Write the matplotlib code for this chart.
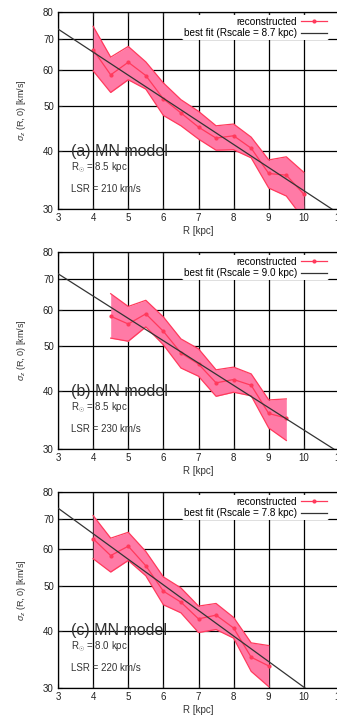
import numpy as np
import matplotlib
matplotlib.use("Agg")
import matplotlib.pyplot as plt
from matplotlib.ticker import FixedLocator, NullLocator

plt.rcParams["font.family"] = ["Liberation Sans", "DejaVu Sans"]
plt.rcParams["mathtext.fontset"] = "custom"
plt.rcParams["mathtext.rm"] = "Liberation Sans"
plt.rcParams["mathtext.it"] = "Liberation Sans:italic"

# radius grid of the reconstruction [kpc]
r_a = [4, 4.5, 5, 5.5, 6, 6.5, 7, 7.5, 8, 8.5, 9, 9.5, 10]
r_b = [4.5, 5, 5.5, 6, 6.5, 7, 7.5, 8, 8.5, 9, 9.5]
r_c = [4, 4.5, 5, 5.5, 6, 6.5, 7, 7.5, 8, 8.5, 9]

# (a) R0 = 8.5 kpc, LSR = 210 km/s
sig_a = [66.3, 58.5, 62.3, 58.3, 51.9, 48.4, 45.1, 42.7, 43.2, 40.6, 35.8, 35.5, 32.3]
up_a = [74.5, 63.9, 67.4, 62.4, 56.2, 51.7, 48.8, 45.4, 45.8, 42.9, 38.3, 38.9, 36.0]
lo_a = [59.7, 53.6, 57.1, 54.5, 47.8, 45.4, 42.5, 40.2, 40.3, 38.7, 33.3, 32.0, 28.5]

# (b) R0 = 8.5 kpc, LSR = 230 km/s
sig_b = [58.1, 55.9, 58.8, 53.9, 48.4, 45.8, 41.7, 42.4, 41.2, 35.8, 35.0]
up_b = [65.0, 61.0, 62.9, 57.9, 51.9, 49.4, 44.5, 45.1, 43.6, 38.3, 38.5]
lo_b = [52.1, 51.3, 55.1, 50.4, 44.9, 43.1, 39.0, 39.8, 39.1, 33.3, 31.3]

# (c) R0 = 8.0 kpc, LSR = 220 km/s
sig_c = [63.3, 58.2, 61.0, 55.3, 48.7, 46.1, 42.4, 43.2, 40.5, 35.0, 33.5]
up_c = [71.1, 63.5, 65.4, 59.4, 52.3, 49.5, 45.2, 45.8, 42.7, 37.6, 37.1]
lo_c = [57.3, 53.6, 56.8, 52.6, 45.5, 43.7, 39.6, 40.2, 38.5, 32.6, 30.2]

# best-fit exponential lines (straight in log space), end points
fit_r = [3, 11]
fit_a = [73.5, 29.3]
fit_b = [71.8, 29.5]
fit_c = [73.8, 26.5]

rscales = ["8.7", "9.0", "7.8"]
tags = ["(a)", "(b)", "(c)"]
r0s = ["8.5", "8.5", "8.0"]
lsrs = ["210", "230", "220"]

xticks = [3, 4, 5, 6, 7, 8, 9, 10, 11]
yticks = [30, 40, 50, 60, 70, 80]

FILL = "#ff7aa6"
EDGE = "#ff3a5c"

fig = plt.figure(figsize=(3.37, 7.17), dpi=100)
tops = [12, 252, 492]
bottoms = [209, 449, 688]

panels = [
    (r_a, sig_a, up_a, lo_a, fit_a),
    (r_b, sig_b, up_b, lo_b, fit_b),
    (r_c, sig_c, up_c, lo_c, fit_c),
]

for i, (r, sig, up, lo, fit) in enumerate(panels):
    h = (bottoms[i] - tops[i]) / 717
    ax = fig.add_axes([58 / 337, 1 - bottoms[i] / 717, 281 / 337, h])
    ax.set_yscale("log")
    ax.set_xlim(3, 11)
    ax.set_ylim(30, 80)

    ax.fill_between(r, lo, up, color=FILL, lw=0, zorder=2)
    ax.plot(r, up, color=EDGE, lw=0.9, zorder=3)
    ax.plot(r, lo, color=EDGE, lw=0.9, zorder=3)
    ax.plot(r, sig, color=EDGE, lw=0.9, marker="o", ms=2, zorder=4,
            label="reconstructed")
    ax.plot(fit_r, fit, color="#333333", lw=0.9, zorder=5,
            label=f"best fit (Rscale = {rscales[i]} kpc)")

    ax.xaxis.set_major_locator(FixedLocator(xticks))
    ax.set_xticklabels([str(t) for t in xticks])
    ax.yaxis.set_major_locator(FixedLocator(yticks))
    ax.yaxis.set_minor_locator(NullLocator())
    ax.set_yticklabels([str(t) for t in yticks])
    ax.tick_params(direction="in", top=True, right=False, labelsize=7,
                   length=3, width=0.8, colors="#222222", pad=3)
    ax.grid(True, color="black", lw=0.9, zorder=1)
    ax.set_axisbelow(True)
    for s in ax.spines.values():
        s.set_linewidth(0.9)

    ax.set_xlabel("R [kpc]", fontsize=7, labelpad=2, color="#333333")
    ax.set_ylabel(r"$\sigma_z$ (R, 0) [km/s]", fontsize=6.5, color="#333333")
    ax.yaxis.set_label_coords(-0.105, 0.5)

    leg = ax.legend(loc="upper right", bbox_to_anchor=(0.965, 0.985),
                    fontsize=7.2, frameon=True, markerfirst=False,
                    handlelength=2.6, handletextpad=0.4, borderpad=0.2,
                    labelspacing=0.15, borderaxespad=0)
    leg.get_frame().set_edgecolor("none")
    leg.get_frame().set_facecolor("white")
    leg.get_frame().set_alpha(1)
    leg.set_zorder(10)

    ax.text(0.046, 0.269, f"{tags[i]} MN model", transform=ax.transAxes,
            fontsize=11.5, color="#333333", va="baseline", zorder=6)
    ax.text(0.046, 0.194, r"R$_{\odot}$ = " + f"{r0s[i]} kpc",
            transform=ax.transAxes, fontsize=7, color="#333333",
            va="baseline", zorder=6)
    ax.text(0.046, 0.086, f"LSR = {lsrs[i]} km/s", transform=ax.transAxes,
            fontsize=7, color="#333333", va="baseline", zorder=6)

fig.savefig("out.png", dpi=100)
plt.close(fig)
